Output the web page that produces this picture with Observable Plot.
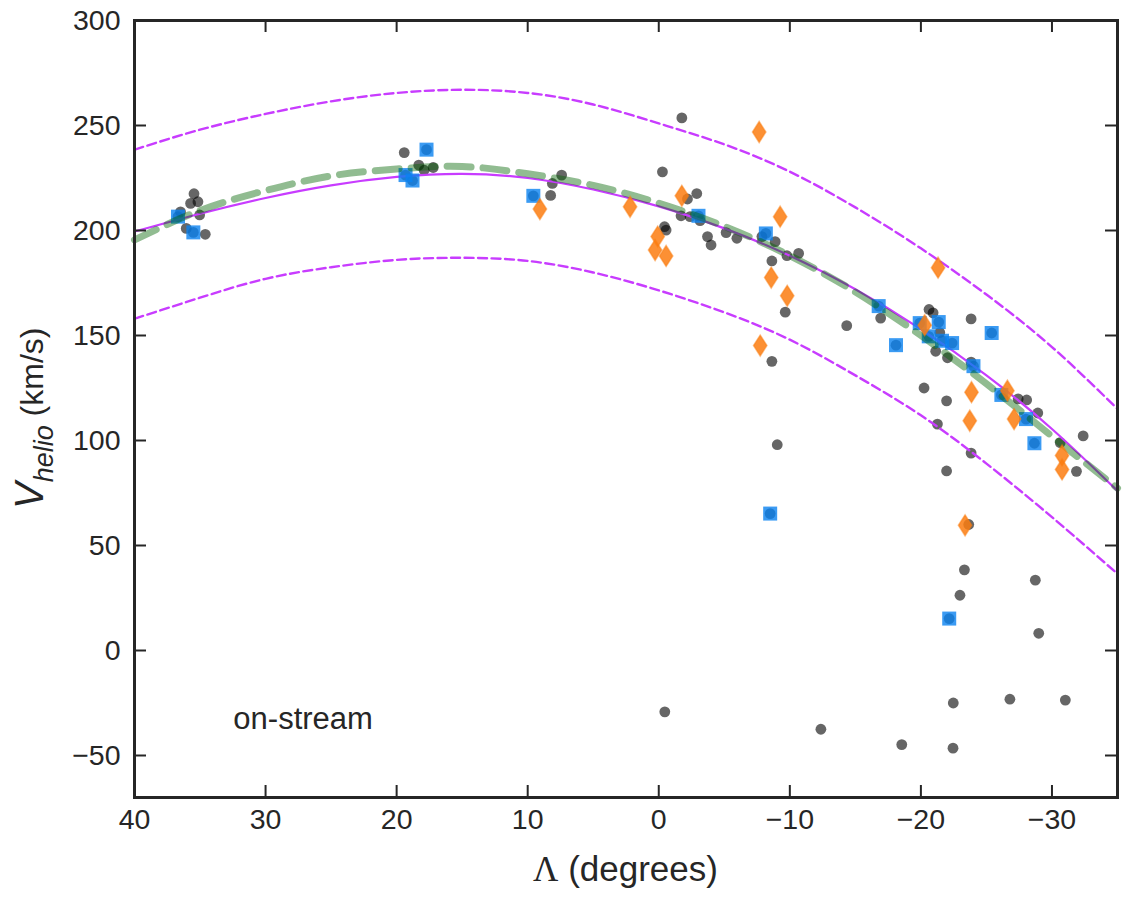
<!DOCTYPE html>
<html><head><meta charset="utf-8">
<script src="https://cdn.jsdelivr.net/npm/d3@7"></script>
<script src="https://cdn.jsdelivr.net/npm/@observablehq/plot@0.6"></script>
<style>body{margin:0;background:#fff;} #chart{width:1125px;height:900px;}</style>
</head><body><div id="chart"></div>
<script>
// Off-stream / on-stream stars: Lambda (deg) and heliocentric velocity (km/s)
const grayL = [35.46,35.72,35.16,36.49,35.03,36.05,34.60,19.42,18.31,17.90,17.21,
  -1.76,-0.28,7.41,8.12,8.25,-2.90,-2.19,-1.70,-2.39,-3.15,-0.44,-0.56,-3.72,-3.99,-5.14,-5.96,-7.87,-8.88,-8.63,-9.78,-10.67,-9.65,-8.63,-9.04,-14.34,-16.93,
  -20.62,-20.93,-21.44,-21.13,-22.03,-20.24,-21.96,-21.26,-23.83,-23.83,-23.83,-21.96,-27.42,-28.07,-28.92,-30.63,-32.38,-31.87,-23.65,-23.32,-28.73,-22.98,-28.99,-22.47,-26.79,-31.02,-18.54,-22.45,-0.46,-12.37];
const grayV = [217.5,212.9,213.7,208.9,207.4,201.0,198.2,237.1,231.1,228.7,230.0,
  253.6,227.9,226.4,222.4,216.7,217.6,215.0,207.0,206.6,204.7,201.8,200.2,197.1,193.1,199.0,196.3,197.1,194.7,185.5,188.0,189.1,161.1,137.7,98.0,154.7,158.3,
  162.4,160.8,151.4,142.5,139.4,125.0,118.9,107.8,157.9,137.3,94.0,85.5,119.8,119.3,113.1,99.0,102.2,85.3,60.0,38.4,33.5,26.3,8.2,-25.0,-23.2,-23.6,-44.8,-46.5,-29.2,-37.5];

const blueL = [36.68,35.51,19.32,18.79,17.72,9.57,-3.03,-8.17,-16.78,-18.10,-19.91,-21.36,-20.60,-21.61,-22.38,-25.40,-24.01,-26.14,-28.02,-28.66,-8.50,-22.16];
const blueV = [206.6,199.1,226.4,223.8,238.5,216.5,207.0,198.6,164.0,145.4,155.9,156.4,149.6,147.5,146.4,151.2,135.4,121.7,110.2,98.7,65.2,15.2];

const orangeL = [9.07,2.19,-1.76,0.08,0.28,-0.56,-7.66,-9.26,-8.58,-9.80,-7.74,-20.29,-21.31,-23.86,-23.73,-26.60,-27.11,-30.77,-30.77,-23.37];
const orangeV = [210.2,211.3,216.5,197.1,190.7,187.9,246.9,206.6,177.6,168.9,145.2,154.9,182.3,123.0,109.4,123.7,110.2,92.9,86.2,59.6];

// Model tracks
const modelL = [40,35,30,25,20,15,10,5,0,-5,-10,-15,-20,-25,-30,-35];
const modelMid   = [199.5,208,215.5,221.5,225.5,227,225,219.5,211.5,201,188,172,153,131,105.5,76];
const modelUpper = [238.5,248,255.5,261.5,265.5,267,265.5,260,251,241,228,211,191.5,169.5,144.5,115];
const modelLower = [158,168,177,182.5,186,187,185.5,180,171.5,161,148,131,112,89,63.5,36.5];
const modelGreen = [195.5,209.5,219,226,229.3,230.5,227,221.5,213,202,188,170.7,150,127,102,77.3];

const xTicks = [40,30,20,10,0,-10,-20,-30];
const yTicks = [-50,0,50,100,150,200,250,300];
const annotation = "on-stream";

const pts = (Ls, Vs) => Ls.map((L, i) => ({L, v: Vs[i]}));
const gray = pts(grayL, grayV), blue = pts(blueL, blueV), orange = pts(orangeL, orangeV);
const mid = pts(modelL, modelMid), upper = pts(modelL, modelUpper), lower = pts(modelL, modelLower), green = pts(modelL, modelGreen);

const squareSym = {draw(ctx, size) { const h = Math.sqrt(size / Math.PI); ctx.rect(-h, -h, 2 * h, 2 * h); }};
const diamondSym = {draw(ctx, size) { const h = Math.sqrt(size / Math.PI), w = h * 0.64;
  ctx.moveTo(0, -h); ctx.lineTo(w, 0); ctx.lineTo(0, h); ctx.lineTo(-w, 0); ctx.closePath(); }};

const W = 1125, H = 900, mL = 134, mR = 8, mT = 20, mB = 103;
const fw = W - mL - mR, fh = H - mT - mB, tl = 12;
const ink = "#262626", purple = "#c83cff";
const font = "'Liberation Sans', Arial, Helvetica, sans-serif";

const chart = Plot.plot({
  width: W, height: H, marginLeft: mL, marginRight: mR, marginTop: mT, marginBottom: mB,
  style: {fontFamily: font, fontSize: "28.5px", color: ink, background: "#fff", overflow: "visible"},
  x: {domain: [40, -35], ticks: xTicks, tickSize: 0, tickPadding: 11, label: null},
  y: {domain: [-70, 300], ticks: yTicks, tickSize: 0, tickPadding: 14, label: null},
  marks: [
    Plot.dot(gray, {x: "L", y: "v", r: 5.4, fill: "#000", fillOpacity: 0.6, stroke: null}),
    Plot.dot(blue, {x: "L", y: "v", r: 5.4, fill: "#000", fillOpacity: 0.6, stroke: null}),
    Plot.line(upper, {x: "L", y: "v", curve: "natural", stroke: purple, strokeWidth: 2.4, strokeDasharray: "9,4.5"}),
    Plot.line(lower, {x: "L", y: "v", curve: "natural", stroke: purple, strokeWidth: 2.4, strokeDasharray: "9,4.5"}),
    Plot.line(mid, {x: "L", y: "v", curve: "natural", stroke: purple, strokeWidth: 2.2}),
    Plot.dot(blue, {x: "L", y: "v", r: 7, symbol: squareSym, fill: "#0a82f0", fillOpacity: 0.8, stroke: null}),
    Plot.line(green, {x: "L", y: "v", curve: "natural", stroke: "#006400", strokeOpacity: 0.43, strokeWidth: 7, strokeDasharray: "24,12"}),
    Plot.dot(orange, {x: "L", y: "v", r: 10.5, symbol: diamondSym, fill: "#fb7d10", fillOpacity: 0.85, stroke: "#fb7d10", strokeOpacity: 0.5, strokeWidth: 1.5}),
    Plot.text([annotation], {x: 32.46, y: -37.2, text: d => d, textAnchor: "start", lineAnchor: "bottom", fontSize: 31, fill: ink}),
    Plot.ruleX(xTicks, {insetTop: fh - tl, stroke: ink, strokeWidth: 2}),
    Plot.ruleX(xTicks, {insetBottom: fh - tl, stroke: ink, strokeWidth: 2}),
    Plot.ruleY(yTicks, {insetRight: fw - tl, stroke: ink, strokeWidth: 2}),
    Plot.ruleY(yTicks, {insetLeft: fw - tl, stroke: ink, strokeWidth: 2}),
    Plot.frame({stroke: ink, strokeWidth: 3})
  ]
});
document.getElementById("chart").appendChild(chart);

const svg = d3.select(chart);
const yl = svg.append("text").attr("transform", "translate(43,509) rotate(-90)").attr("text-anchor", "start").attr("fill", ink).style("font-family", font);
yl.append("tspan").attr("font-size", 40).attr("font-style", "italic").text("V");
yl.append("tspan").attr("font-size", 27).attr("font-style", "italic").attr("dy", 10).text("helio");
yl.append("tspan").attr("font-size", 32).attr("dy", -10).text("\u00a0(km/s)");

const xl = svg.append("text").attr("x", mL + fw / 2).attr("y", 881).attr("text-anchor", "middle").attr("fill", ink).attr("font-size", 35).style("font-family", font);
xl.append("tspan").style("font-family", "'Liberation Serif', 'DejaVu Serif', serif").text("Λ");
xl.append("tspan").text(" (degrees)");
</script>
</body></html>
